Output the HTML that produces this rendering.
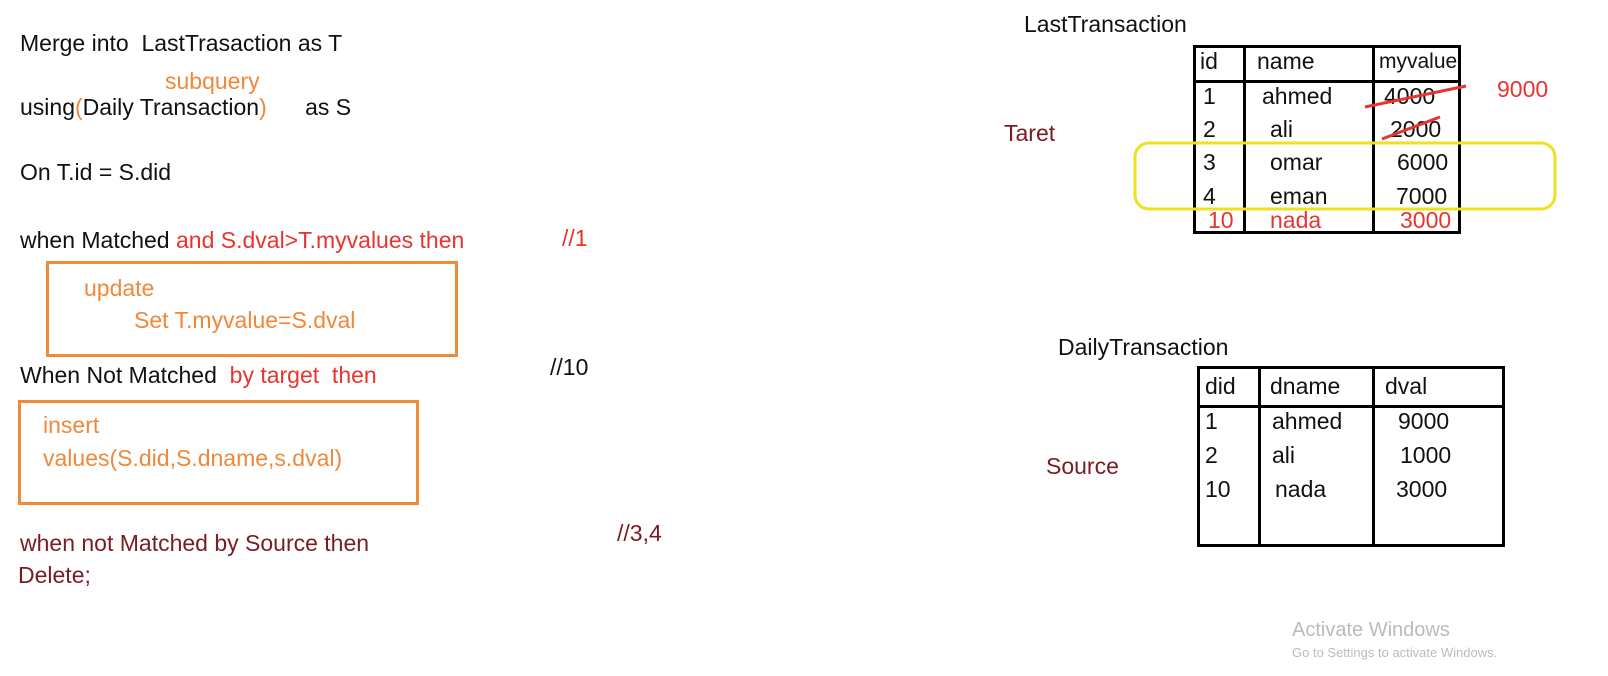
<!DOCTYPE html>
<html><head><meta charset="utf-8"><style>
body{margin:0;width:1608px;height:676px;background:#fff;position:relative;overflow:hidden;font-family:"Liberation Sans",sans-serif;}
.t{position:absolute;font-size:23px;white-space:nowrap;color:#111;line-height:1;}
.o{color:#f0883a}.r{color:#e8342e}.m{color:#7a1c22}.g{color:#bbb}
.box{position:absolute;border:3px solid #f08a36;}
.l{position:absolute;background:#000;}
</style></head><body>
<div class="t" style="left:20px;top:32px">Merge into&nbsp; LastTrasaction as T</div>
<div class="t o" style="left:165px;top:70px">subquery</div>
<div class="t" style="left:20px;top:96px">using<span class="o">(</span>Daily Transaction<span class="o">)</span>&nbsp;&nbsp;&nbsp;&nbsp;&nbsp; as S</div>
<div class="t" style="left:20px;top:161px">On T.id = S.did</div>
<div class="t" style="left:20px;top:229px">when Matched <span class="r">and S.dval&gt;T.myvalues then</span></div>
<div class="t r" style="left:562px;top:227px">//1</div>
<div class="box" style="left:46px;top:261px;width:406px;height:90px"></div>
<div class="t o" style="left:84px;top:277px">update</div>
<div class="t o" style="left:134px;top:309px">Set T.myvalue=S.dval</div>
<div class="t" style="left:20px;top:364px">When Not Matched&nbsp; <span class="r">by target&nbsp; then</span></div>
<div class="t" style="left:550px;top:356px">//10</div>
<div class="box" style="left:18px;top:400px;width:395px;height:99px"></div>
<div class="t o" style="left:43px;top:414px">insert</div>
<div class="t o" style="left:43px;top:447px">values(S.did,S.dname,s.dval)</div>
<div class="t m" style="left:20px;top:532px">when not Matched by Source then</div>
<div class="t m" style="left:617px;top:522px">//3,4</div>
<div class="t m" style="left:18px;top:564px">Delete;</div>

<div class="t" style="left:1024px;top:13px">LastTransaction</div>
<div class="t m" style="left:1004px;top:122px">Taret</div>
<div style="position:absolute;left:1193px;top:45px;width:262px;height:183px;border:3px solid #000"></div>
<div class="l" style="left:1193px;top:80px;width:268px;height:3px"></div>
<div class="l" style="left:1243px;top:45px;width:3px;height:189px"></div>
<div class="l" style="left:1372px;top:45px;width:3px;height:189px"></div>
<div class="t" style="left:1200px;top:50px">id</div><div class="t" style="left:1257px;top:50px">name</div><div class="t" style="left:1379px;top:51px;font-size:21px">myvalue</div>
<div class="t" style="left:1203px;top:85px">1</div><div class="t" style="left:1262px;top:85px">ahmed</div><div class="t" style="left:1384px;top:85px">4000</div>
<div class="t" style="left:1203px;top:118px">2</div><div class="t" style="left:1270px;top:118px">ali</div><div class="t" style="left:1390px;top:118px">2000</div>
<div class="t" style="left:1203px;top:151px">3</div><div class="t" style="left:1270px;top:151px">omar</div><div class="t" style="left:1397px;top:151px">6000</div>
<div class="t" style="left:1203px;top:185px">4</div><div class="t" style="left:1270px;top:185px">eman</div><div class="t" style="left:1396px;top:185px">7000</div>
<div class="t r" style="left:1208px;top:209px">10</div><div class="t r" style="left:1270px;top:209px">nada</div><div class="t r" style="left:1400px;top:209px">3000</div>
<div class="t r" style="left:1497px;top:78px">9000</div>
<svg style="position:absolute;left:0;top:0" width="1608" height="676">
<path d="M1365 107 L1466 86" stroke="#e8342e" stroke-width="3" fill="none"/>
<path d="M1382 139 L1440 117" stroke="#e8342e" stroke-width="3" fill="none"/>
<rect x="1135" y="143" width="420" height="66" rx="14" fill="none" stroke="#f0e020" stroke-width="3"/>
</svg>

<div class="t" style="left:1058px;top:336px">DailyTransaction</div>
<div class="t m" style="left:1046px;top:455px">Source</div>
<div style="position:absolute;left:1197px;top:366px;width:302px;height:175px;border:3px solid #000"></div>
<div class="l" style="left:1197px;top:405px;width:305px;height:3px"></div>
<div class="l" style="left:1258px;top:366px;width:3px;height:181px"></div>
<div class="l" style="left:1372px;top:366px;width:3px;height:181px"></div>
<div class="t" style="left:1205px;top:375px">did</div><div class="t" style="left:1270px;top:375px">dname</div><div class="t" style="left:1385px;top:375px">dval</div>
<div class="t" style="left:1205px;top:410px">1</div><div class="t" style="left:1272px;top:410px">ahmed</div><div class="t" style="left:1398px;top:410px">9000</div>
<div class="t" style="left:1205px;top:444px">2</div><div class="t" style="left:1272px;top:444px">ali</div><div class="t" style="left:1400px;top:444px">1000</div>
<div class="t" style="left:1205px;top:478px">10</div><div class="t" style="left:1275px;top:478px">nada</div><div class="t" style="left:1396px;top:478px">3000</div>

<div class="t g" style="left:1292px;top:620px;font-size:20px">Activate Windows</div>
<div class="t g" style="left:1292px;top:646px;font-size:13px">Go to Settings to activate Windows.</div>
</body></html>
